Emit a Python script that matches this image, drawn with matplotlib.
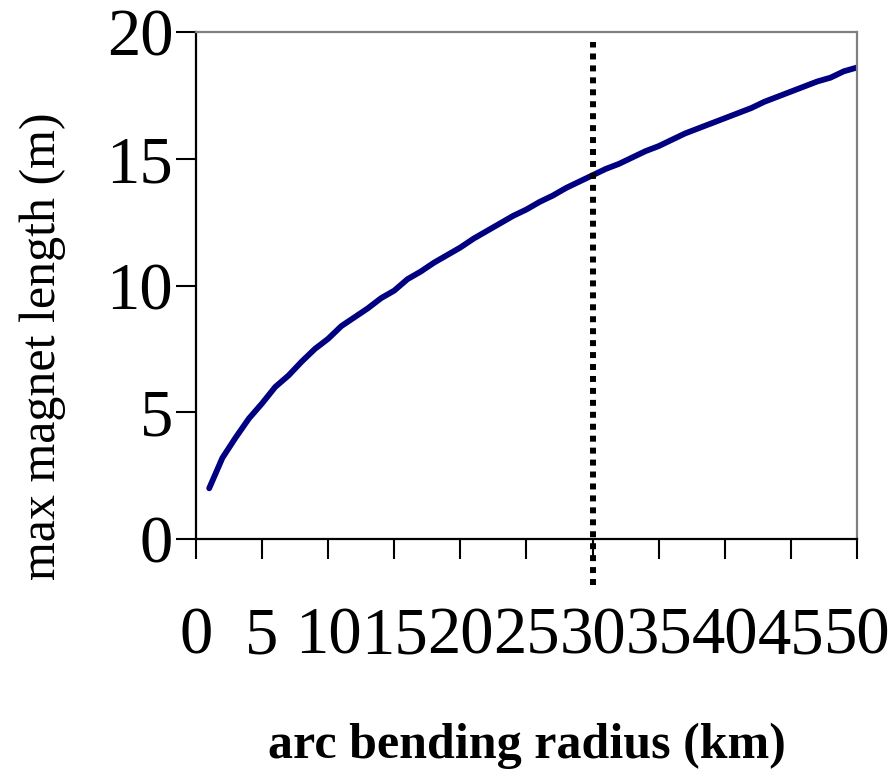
import matplotlib
matplotlib.use("Agg")
import matplotlib.pyplot as plt

# arc bending radius (km) and max magnet length (m)
radius = list(range(1, 51))
length = [2.0, 3.2, 4.0, 4.75, 5.35, 6.0, 6.45, 7.0, 7.5, 7.9,
          8.4, 8.75, 9.1, 9.5, 9.8, 10.25, 10.55, 10.9, 11.2, 11.5,
          11.85, 12.15, 12.45, 12.75, 13.0, 13.3, 13.55, 13.85, 14.1, 14.35,
          14.6, 14.8, 15.05, 15.3, 15.5, 15.75, 16.0, 16.2, 16.4, 16.6,
          16.8, 17.0, 17.25, 17.45, 17.65, 17.85, 18.05, 18.2, 18.45, 18.6]

marker_x = 30
marker_span = [-1.8, 19.6]

xticks = list(range(0, 51, 5))
yticks = list(range(0, 21, 5))

plt.rcParams['font.family'] = ['Liberation Serif', 'DejaVu Serif']

fig = plt.figure(figsize=(8.94, 7.7), dpi=100)
ax = fig.add_axes([0.2192, 0.30, 0.9586 - 0.2192, 0.9584 - 0.30])

ax.plot(radius, length, color='#000080', lw=4.2, solid_capstyle='round',
        solid_joinstyle='round')
ax.plot([marker_x, marker_x], marker_span, color='black', lw=4.3,
        linestyle=(0, (1, 1)), clip_on=False, dash_capstyle='butt')

ax.set_xlim(0, 50)
ax.set_ylim(0, 20)
ax.set_xticks(xticks)
ax.set_yticks(yticks)
ax.set_xticklabels([str(t) for t in xticks], fontsize=48)
ax.set_yticklabels([str(t) for t in yticks], fontsize=48)
ax.tick_params(axis='x', direction='out', length=14.4, width=1.5, pad=34)
ax.tick_params(axis='y', direction='out', length=14.4, width=1.5, pad=2)

for s in ['left', 'bottom']:
    ax.spines[s].set_linewidth(1.6)
    ax.spines[s].set_color('black')
for s in ['top', 'right']:
    ax.spines[s].set_linewidth(1.6)
    ax.spines[s].set_color('#808080')

ax.set_xlabel('arc bending radius (km)', fontsize=36, fontweight='bold',
              labelpad=40)
ax.set_ylabel('max magnet length (m)', fontsize=36)
ax.yaxis.set_label_coords(-0.197, 0.381)

fig.savefig('out.png', dpi=100)
